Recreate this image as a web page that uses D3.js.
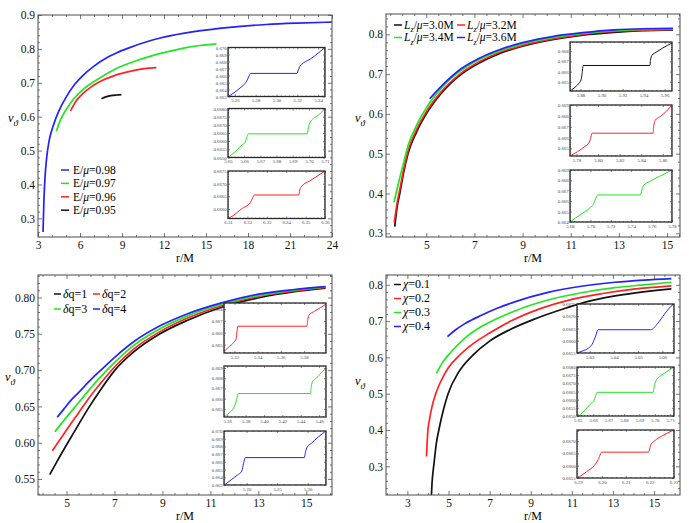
<!DOCTYPE html>
<html><head><meta charset="utf-8">
<script src="https://cdn.jsdelivr.net/npm/d3@7"></script>
<style>
body{margin:0;background:#fff;}
svg{display:block;}
svg text{font-family:'Liberation Serif','DejaVu Serif','Times New Roman',serif !important;}
</style></head><body>
<script>
// ---------------- DATA ----------------
// Panel 1 : E/mu
const p1XTicks=[3,6,9,12,15,18,21,24];
const p1YTicks=[0.3,0.4,0.5,0.6,0.7,0.8,0.9];
const p1Legend=['0.98','0.97','0.96','0.95'];
const p1_r098=[3.36,3.42,3.5,3.6,3.8,4.07,4.5,5.03,5.6,6.2,7,8,8.6,9.5,11,12.5,14.5,16.5,19.3,21.5,24];
const p1_v098=[0.26,0.35,0.42,0.472,0.53,0.571,0.618,0.659,0.694,0.721,0.749,0.776,0.788,0.803,0.824,0.839,0.853,0.863,0.872,0.876,0.879];
const p1_r097=[4.31,4.6,5.03,5.6,6.2,7.4,8.5,9.8,11,12.2,13.5,14.56,15.75];
const p1_v097=[0.557,0.59,0.622,0.655,0.68,0.714,0.740,0.762,0.778,0.791,0.803,0.810,0.815];
const p1_r096=[5.32,5.7,6.2,6.8,7.4,8.5,9.8,10.6,11.46];
const p1_v096=[0.617,0.645,0.668,0.688,0.703,0.722,0.736,0.742,0.745];
const p1_r095=[7.53,7.9,8.2,8.6,8.96];
const p1_v095=[0.653,0.659,0.662,0.664,0.665];

// Panel 2 : Lz/mu
const p2XTicks=[5,7,9,11,13,15];
const p2YTicks=[0.3,0.4,0.5,0.6,0.7,0.8];
const p2Legend=['3.0','3.2','3.4','3.6'];
const p2_r30=[3.69,3.8,3.9,4.05,4.24,4.6,5.0,5.6,6.46,7.2,7.98,9,10.3,11.5,12.8,14,15.25];
const p2_v30=[0.317,0.37,0.40,0.45,0.50,0.555,0.60,0.65,0.70,0.728,0.75,0.77,0.787,0.798,0.805,0.809,0.811];
const p2_r32=[3.67,3.8,3.9,4.05,4.24,4.6,5.0,5.6,6.46,7.2,7.98,9,10.3,11.5,12.8,14,15.25];
const p2_v32=[0.327,0.38,0.41,0.458,0.507,0.561,0.605,0.654,0.703,0.731,0.753,0.772,0.789,0.8,0.807,0.81,0.812];
const p2_r34=[3.66,3.8,3.9,4.05,4.24,4.6,5.0,5.6,6.46,7.2,7.98,9,10.3,11.5,12.8,14,15.25];
const p2_v34=[0.378,0.415,0.44,0.475,0.52,0.572,0.615,0.663,0.71,0.737,0.757,0.776,0.792,0.802,0.809,0.812,0.813];
const p2_r36=[5.14,5.6,6.46,7.2,7.98,9,10.3,11.5,12.8,14,15.25];
const p2_v36=[0.638,0.668,0.714,0.740,0.760,0.779,0.795,0.804,0.811,0.814,0.815];

// Panel 3 : delta q
const p3XTicks=[5,7,9,11,13,15];
const p3YTicks=[0.55,0.60,0.65,0.70,0.75,0.80];
const p3Legend=['1','2','3','4'];
const p3_r1=[4.30,4.6,5.07,5.5,5.9,6.4,7.02,7.8,8.9,10,11.5,13.07,14.5,15.8];
const p3_v1=[0.556,0.574,0.601,0.625,0.647,0.672,0.70,0.725,0.75,0.768,0.787,0.80,0.808,0.813];
const p3_r2=[4.41,4.7,5.07,5.5,5.9,6.4,7.02,7.8,8.9,10,11.5,13.07,14.5,15.8];
const p3_v2=[0.589,0.603,0.621,0.641,0.66,0.681,0.705,0.729,0.753,0.771,0.789,0.802,0.809,0.814];
const p3_r3=[4.51,4.8,5.07,5.5,5.9,6.4,7.02,7.8,8.9,10,11.5,13.07,14.5,15.8];
const p3_v3=[0.615,0.627,0.638,0.655,0.671,0.69,0.711,0.734,0.757,0.774,0.791,0.803,0.81,0.8145];
const p3_r4=[4.61,4.9,5.2,5.5,5.9,6.4,7.02,7.8,8.9,10,11.5,13.07,14.5,15.8];
const p3_v4=[0.635,0.647,0.659,0.669,0.683,0.699,0.718,0.739,0.761,0.777,0.793,0.805,0.811,0.815];

// Panel 4 : chi
const p4XTicks=[3,5,7,9,11,13,15];
const p4YTicks=[0.3,0.4,0.5,0.6,0.7,0.8];
const p4Legend=['0.1','0.2','0.3','0.4'];
const p4_r01=[4.15,4.2,4.3,4.4,4.53,4.75,4.98,5.5,6.2,7.0,8.0,9.11,10.5,12,13.5,15.84];
const p4_v01=[0.20,0.255,0.31,0.36,0.40,0.455,0.50,0.56,0.607,0.645,0.677,0.704,0.732,0.757,0.773,0.789];
const p4_r02=[3.93,3.96,4.0,4.08,4.2,4.38,4.65,5.0,5.43,6.2,7.0,8.03,9.5,11.0,12.5,14,15.84];
const p4_v02=[0.327,0.365,0.40,0.43,0.465,0.50,0.537,0.572,0.60,0.638,0.667,0.70,0.735,0.76,0.776,0.788,0.797];
const p4_r03=[4.41,4.7,5.0,5.3,5.9,6.6,7.4,8.22,9.84,11.46,13.09,14.5,15.84];
const p4_v03=[0.556,0.585,0.607,0.626,0.658,0.685,0.708,0.728,0.758,0.778,0.792,0.80,0.807];
const p4_r04=[4.95,5.3,5.8,6.6,7.4,8.22,9.84,11.46,13.09,14.5,15.84];
const p4_v04=[0.657,0.674,0.693,0.716,0.736,0.753,0.779,0.796,0.807,0.813,0.817];

// Insets (zoomed curves)
const i1a_r=[5.2534,5.258,5.264,5.268,5.271,5.2735,5.275,5.3195,5.321,5.3225,5.326,5.333,5.34,5.3466];
const i1a_v=[0.663,0.6634,0.6641,0.6646,0.6651,0.6659,0.6663,0.6663,0.6668,0.6673,0.6678,0.6684,0.6692,0.670];
const i1a_xt=[5.26,5.28,5.30,5.32,5.34], i1a_yt=[0.663,0.664,0.665,0.666,0.667,0.668,0.669,0.670];
const i1b_r=[5.65,5.655,5.659,5.6605,5.6615,5.6625,5.699,5.6995,5.7005,5.703,5.706,5.71];
const i1b_v=[0.665,0.6654,0.6658,0.6659,0.6662,0.66645,0.66645,0.6667,0.6671,0.6674,0.6676,0.668];
const i1b_xt=[5.65,5.66,5.67,5.68,5.69,5.70,5.71], i1b_yt=[0.6650,0.6655,0.6660,0.6665,0.6670,0.6675,0.6680];
const i1c_r=[6.31,6.313,6.317,6.3215,6.3225,6.3235,6.3465,6.347,6.348,6.352,6.356,6.36];
const i1c_v=[0.66562,0.66575,0.6660,0.66625,0.6664,0.66655,0.66655,0.66675,0.6669,0.6671,0.6673,0.6675];
const i1c_xt=[6.31,6.32,6.33,6.34,6.35,6.36], i1c_yt=[0.6660,0.6665,0.6670,0.6675];

const i2a_r=[5.870,5.874,5.878,5.8805,5.8815,5.8825,5.946,5.9465,5.948,5.952,5.958,5.967];
const i2a_v=[0.6641,0.6644,0.6648,0.6652,0.6658,0.6666,0.6666,0.6671,0.6676,0.6679,0.6683,0.6688];
const i2a_xt=[5.88,5.90,5.92,5.94,5.96], i2a_yt=[0.665,0.666,0.667,0.668];
const i2b_r=[5.774,5.781,5.788,5.7915,5.793,5.7945,5.851,5.8515,5.853,5.857,5.862,5.8685];
const i2b_v=[0.6643,0.6647,0.6652,0.6655,0.6659,0.6664,0.6664,0.667,0.6676,0.6679,0.6683,0.669];
const i2b_xt=[5.78,5.80,5.82,5.84,5.86], i2b_yt=[0.665,0.666,0.667,0.668,0.669];
const i2c_r=[5.68,5.69,5.70,5.703,5.705,5.707,5.749,5.7505,5.752,5.758,5.768,5.78];
const i2c_v=[0.664,0.6647,0.6654,0.6657,0.6662,0.6666,0.6666,0.6671,0.6675,0.6679,0.6684,0.669];
const i2c_xt=[5.68,5.70,5.72,5.74,5.76,5.78], i2c_yt=[0.664,0.665,0.666,0.667,0.668,0.669];

const i3a_r=[5.311,5.315,5.3195,5.3215,5.3222,5.323,5.3825,5.3833,5.3845,5.389,5.394,5.399];
const i3a_v=[0.6644,0.6648,0.6652,0.6655,0.6661,0.66655,0.66655,0.6671,0.6675,0.6678,0.6681,0.6684];
const i3a_xt=[5.32,5.34,5.36,5.38], i3a_yt=[0.665,0.666,0.667,0.668];
const i3b_r=[5.3565,5.362,5.367,5.369,5.3705,5.372,5.4505,5.4515,5.453,5.457,5.462,5.4675];
const i3b_v=[0.6642,0.6646,0.6651,0.6655,0.666,0.6665,0.6665,0.6672,0.6677,0.668,0.6685,0.669];
const i3b_xt=[5.36,5.38,5.40,5.42,5.44,5.46], i3b_yt=[0.665,0.666,0.667,0.668,0.669];
const i3c_r=[5.164,5.175,5.185,5.192,5.195,5.198,5.2945,5.2965,5.299,5.306,5.317,5.33];
const i3c_v=[0.663,0.6637,0.6643,0.6648,0.6658,0.66655,0.66655,0.6673,0.6679,0.6684,0.6692,0.670];
const i3c_xt=[5.20,5.25,5.30], i3c_yt=[0.663,0.664,0.665,0.666,0.667,0.668,0.669,0.670];

const i4a_r=[5.0248,5.027,5.0295,5.031,5.0325,5.0335,5.0552,5.058,5.061,5.0635,5.0648];
const i4a_v=[0.6655,0.66558,0.6657,0.66585,0.6662,0.66645,0.66645,0.6667,0.6671,0.6674,0.6675];
const i4a_xt=[5.03,5.04,5.05,5.06], i4a_yt=[0.6655,0.6660,0.6665,0.6670,0.6675];
const i4b_r=[5.651,5.655,5.659,5.6605,5.6615,5.6625,5.699,5.6995,5.7005,5.703,5.706,5.7125];
const i4b_v=[0.665,0.6654,0.6658,0.6659,0.6662,0.66645,0.66645,0.6667,0.6671,0.6674,0.6676,0.668];
const i4b_xt=[5.65,5.66,5.67,5.68,5.69,5.70,5.71], i4b_yt=[0.6650,0.6655,0.6660,0.6665,0.6670,0.6675,0.6680];
const i4c_r=[6.19,6.1935,6.1968,6.1985,6.2,6.2195,6.2205,6.222,6.226,6.2302];
const i4c_v=[0.6655,0.66575,0.6660,0.66625,0.66655,0.66655,0.66685,0.6670,0.66725,0.66745];
const i4c_xt=[6.19,6.20,6.21,6.22,6.23], i4c_yt=[0.6655,0.6660,0.6665,0.6670];

// ---------------- STYLE / LAYOUT ----------------
const FONT="'Liberation Serif','DejaVu Serif','Times New Roman',serif";
const BLUE='#2222ff', RED='#ff2222', GREEN='#22e622', BLACK='#111111';

const svg=d3.select('body').append('svg').attr('width',697).attr('height',523)
  .attr('font-family',FONT);
const defs=svg.append('defs');
let clipN=0;

function minors(ticks,dom,n){
  const step=(ticks[1]-ticks[0])/n, lo=Math.min(...dom), hi=Math.max(...dom), out=[];
  for(let k=-200;k<=400;k++){
    if(k%n===0) continue;
    const v=+(ticks[0]+k*step).toFixed(8);
    if(v>lo+1e-9 && v<hi-1e-9) out.push(v);
  }
  return out;
}

function axes(g,x,y,o){
  const [xa,xb]=x.range(), [ya,yb]=y.range();
  const add=(fn,scale,vals,size,fmt,tr,pad)=>{
    const ax=fn(scale).tickValues(vals).tickSizeInner(-size).tickSizeOuter(0).tickPadding(pad).tickFormat(fmt);
    const ag=g.append('g').attr('transform',tr).call(ax);
    ag.attr('font-family',FONT);
    ag.select('.domain').remove();
    ag.selectAll('line').attr('stroke',o.tc).attr('stroke-width',o.tw);
    ag.selectAll('text').attr('font-size',o.fs).attr('fill',o.lc);
  };
  const none=()=> '';
  const xm=minors(o.xt,x.domain(),o.xn), ym=minors(o.yt,y.domain(),o.yn);
  add(d3.axisBottom,x,o.xt,o.maj,o.xf,`translate(0,${ya})`,o.padx);
  add(d3.axisBottom,x,xm,o.min,none,`translate(0,${ya})`,0);
  add(d3.axisTop,x,o.xt,o.maj,none,`translate(0,${yb})`,0);
  add(d3.axisTop,x,xm,o.min,none,`translate(0,${yb})`,0);
  add(d3.axisLeft,y,o.yt,o.maj,o.yf,`translate(${xa},0)`,o.pady);
  add(d3.axisLeft,y,ym,o.min,none,`translate(${xa},0)`,0);
  add(d3.axisRight,y,o.yt,o.maj,none,`translate(${xb},0)`,0);
  add(d3.axisRight,y,ym,o.min,none,`translate(${xb},0)`,0);
  g.append('rect').attr('x',xa).attr('y',yb).attr('width',xb-xa).attr('height',ya-yb)
    .attr('fill','none').attr('stroke',o.fc).attr('stroke-width',o.fw);
}

function curves(g,x,y,list,w){
  const id='clip'+(clipN++);
  const [xa,xb]=x.range(), [ya,yb]=y.range();
  defs.append('clipPath').attr('id',id).append('rect').attr('x',xa).attr('y',yb).attr('width',xb-xa).attr('height',ya-yb);
  const line=d3.line().x(d=>x(d[0])).y(d=>y(d[1])).curve(d3.curveMonotoneX);
  const cg=g.append('g').attr('clip-path',`url(#${id})`);
  list.forEach(s=>{
    cg.append('path').attr('d',line(d3.zip(s.r,s.v))).attr('fill','none')
      .attr('stroke',s.c).attr('stroke-width',w).attr('stroke-linejoin','round');
  });
}

function rich(g,x,y,parts,fs,anchor){
  const t=g.append('text').attr('x',x).attr('y',y+fs*0.33).attr('font-size',fs)
    .attr('fill','#000').attr('text-anchor',anchor||'start');
  parts.forEach(p=>{
    const s=t.append('tspan').text(p.t);
    if(p.i) s.attr('font-style','italic');
    if(p.sub) s.attr('dy',fs*0.28).attr('font-size',fs*0.72);
    if(p.up) s.attr('dy',-fs*0.28);
  });
}

function legendDash(g,x1,x2,y,c){
  g.append('line').attr('x1',x1).attr('x2',x2).attr('y1',y).attr('y2',y).attr('stroke',c).attr('stroke-width',1.5);
}

// ---------------- PANELS ----------------
const mainOpt={maj:4,min:2,padx:4,pady:3,fs:11.5,tc:'#555',tw:0.8,lc:'#111',fc:'#4a4a4a',fw:1};
const panels=[
 {box:[38,332,15,237], xd:[3,24], yd:[0.245,0.9], xt:p1XTicks, yt:p1YTicks, xn:3, yn:5, yf:d3.format('.1f'),
  series:[{r:p1_r098,v:p1_v098,c:BLUE},{r:p1_r097,v:p1_v097,c:GREEN},{r:p1_r096,v:p1_v096,c:RED},{r:p1_r095,v:p1_v095,c:BLACK}],
  xl:[185,258], yl:[8,118]},
 {box:[386,680,14,237], xd:[3.326,15.54], yd:[0.2907,0.851], xt:p2XTicks, yt:p2YTicks, xn:4, yn:5, yf:d3.format('.1f'),
  series:[{r:p2_r30,v:p2_v30,c:BLACK},{r:p2_r32,v:p2_v32,c:RED},{r:p2_r34,v:p2_v34,c:GREEN},{r:p2_r36,v:p2_v36,c:BLUE}],
  xl:[533,258], yl:[355,118]},
 {box:[38,332,275,495], xd:[3.81,16.07], yd:[0.528,0.831], xt:p3XTicks, yt:p3YTicks, xn:4, yn:5, yf:d3.format('.2f'),
  series:[{r:p3_r1,v:p3_v1,c:BLACK},{r:p3_r2,v:p3_v2,c:RED},{r:p3_r3,v:p3_v3,c:GREEN},{r:p3_r4,v:p3_v4,c:BLUE}],
  xl:[185,516], yl:[5,377]},
 {box:[386,680,275,495], xd:[1.96,16.26], yd:[0.221,0.827], xt:p4XTicks, yt:p4YTicks, xn:4, yn:5, yf:d3.format('.1f'),
  series:[{r:p4_r01,v:p4_v01,c:BLACK},{r:p4_r02,v:p4_v02,c:RED},{r:p4_r03,v:p4_v03,c:GREEN},{r:p4_r04,v:p4_v04,c:BLUE}],
  xl:[533,516], yl:[355,381]}
];

panels.forEach(p=>{
  const g=svg.append('g');
  const x=d3.scaleLinear().domain(p.xd).range([p.box[0],p.box[1]]);
  const y=d3.scaleLinear().domain(p.yd).range([p.box[3],p.box[2]]);
  curves(g,x,y,p.series,1.7);
  axes(g,x,y,Object.assign({},mainOpt,{xt:p.xt,yt:p.yt,xn:p.xn,yn:p.yn,xf:d3.format('d'),yf:p.yf}));
  rich(g,p.xl[0],p.xl[1],[{t:'r/M'}],12,'middle');
  rich(g,p.yl[0],p.yl[1],[{t:'v',i:true},{t:'ϑ',i:true,sub:true}],12.5,'start');
});

// ---------------- LEGENDS ----------------
const lg=svg.append('g');
const p1Colors=[BLUE,GREEN,RED,BLACK];
p1Legend.forEach((s,i)=>{
  const yy=170+i*13.4;
  legendDash(lg,61,69,yy,p1Colors[i]);
  rich(lg,73,yy,[{t:'E/'},{t:'μ',i:true},{t:'='+s}],11.5);
});
const p2Colors=[BLACK,RED,GREEN,BLUE];
p2Legend.forEach((s,i)=>{
  const col=i%2,row=Math.floor(i/2);
  const x0=col?457:394, yy=25+row*12.5;
  legendDash(lg,x0,x0+8,yy,p2Colors[i]);
  rich(lg,x0+10,yy,[{t:'L',i:true},{t:'z',i:true,sub:true},{t:'/',up:true},{t:'μ',i:true},{t:'='+s+'M'}],11.5);
});
p3Legend.forEach((s,i)=>{
  const col=i%2,row=Math.floor(i/2);
  const x0=col?93:54, yy=294+row*15;
  legendDash(lg,x0,x0+7,yy,p2Colors[i]);
  rich(lg,x0+9,yy,[{t:'δ',i:true},{t:'q='+s}],12);
});
p4Legend.forEach((s,i)=>{
  const yy=284.5+i*14;
  legendDash(lg,394,401,yy,p2Colors[i]);
  rich(lg,403,yy,[{t:'χ',i:true},{t:'='+s}],12);
});

// ---------------- INSETS ----------------
const insetOpt={maj:2,min:1,padx:2.4,pady:1.4,fs:4.8,tc:'#333',tw:0.6,lc:'#444',fc:'#2a2a2a',fw:1.3};
const insets=[
 {box:[228,325,47.5,96.5], xd:[5.2534,5.3466], yd:[0.663,0.670], r:i1a_r,v:i1a_v,xt:i1a_xt,yt:i1a_yt,xd2:2,yd2:3,c:BLUE},
 {box:[228,325,108.5,157.5], xd:[5.65,5.71], yd:[0.665,0.668], r:i1b_r,v:i1b_v,xt:i1b_xt,yt:i1b_yt,xd2:2,yd2:4,c:GREEN},
 {box:[228,325,171,218.5], xd:[6.31,6.36], yd:[0.66562,0.6675], r:i1c_r,v:i1c_v,xt:i1c_xt,yt:i1c_yt,xd2:2,yd2:4,c:RED},
 {box:[570,672,42,91], xd:[5.870,5.967], yd:[0.6641,0.6689], r:i2a_r,v:i2a_v,xt:i2a_xt,yt:i2a_yt,xd2:2,yd2:3,c:BLACK},
 {box:[570,672,105,156], xd:[5.774,5.8685], yd:[0.6643,0.669], r:i2b_r,v:i2b_v,xt:i2b_xt,yt:i2b_yt,xd2:2,yd2:3,c:RED},
 {box:[570,672,170,222], xd:[5.68,5.78], yd:[0.664,0.669], r:i2c_r,v:i2c_v,xt:i2c_xt,yt:i2c_yt,xd2:2,yd2:3,c:GREEN},
 {box:[224,326,303,353], xd:[5.311,5.399], yd:[0.6643,0.6685], r:i3a_r,v:i3a_v,xt:i3a_xt,yt:i3a_yt,xd2:2,yd2:3,c:RED},
 {box:[224,326,366,417], xd:[5.3565,5.4675], yd:[0.6642,0.6692], r:i3b_r,v:i3b_v,xt:i3b_xt,yt:i3b_yt,xd2:2,yd2:3,c:GREEN},
 {box:[224,326,431,485], xd:[5.163,5.330], yd:[0.663,0.670], r:i3c_r,v:i3c_v,xt:i3c_xt,yt:i3c_yt,xd2:2,yd2:3,c:BLUE},
 {box:[577,674,304,353], xd:[5.0248,5.0648], yd:[0.6655,0.6675], r:i4a_r,v:i4a_v,xt:i4a_xt,yt:i4a_yt,xd2:2,yd2:4,c:BLUE},
 {box:[577,674,367,416], xd:[5.6495,5.7125], yd:[0.665,0.668], r:i4b_r,v:i4b_v,xt:i4b_xt,yt:i4b_yt,xd2:2,yd2:4,c:GREEN},
 {box:[577,674,430,478], xd:[6.1896,6.2302], yd:[0.6655,0.66745], r:i4c_r,v:i4c_v,xt:i4c_xt,yt:i4c_yt,xd2:2,yd2:4,c:RED}
];
insets.forEach(p=>{
  const g=svg.append('g');
  g.append('rect').attr('x',p.box[0]).attr('y',p.box[2]).attr('width',p.box[1]-p.box[0]).attr('height',p.box[3]-p.box[2]).attr('fill','#fff');
  const x=d3.scaleLinear().domain(p.xd).range([p.box[0],p.box[1]]);
  const y=d3.scaleLinear().domain(p.yd).range([p.box[3],p.box[2]]);
  curves(g,x,y,[{r:p.r,v:p.v,c:p.c}],1);
  axes(g,x,y,Object.assign({},insetOpt,{xt:p.xt,yt:p.yt,xn:5,yn:5,xf:d3.format('.'+p.xd2+'f'),yf:d3.format('.'+p.yd2+'f')}));
});
</script></body></html>
